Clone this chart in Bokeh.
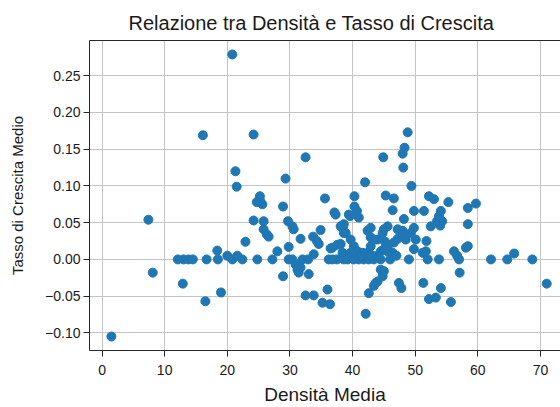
from bokeh.plotting import figure
from bokeh.models import Range1d, FixedTicker, CustomJSTickFormatter, LinearAxis, ColumnDataSource
from bokeh.embed import file_html
from bokeh.resources import INLINE

# Densità Media (x) and Tasso di Crescita Medio (y)
densita = [
    1.5, 7.4, 8.1, 12.1, 13.0, 13.8, 14.5, 12.9, 16.1, 16.5, 16.7, 18.4, 18.5, 19.0,
    20.0, 20.8, 20.8, 21.3, 21.5, 21.6, 22.4, 22.9, 24.2, 24.2, 24.8, 25.2, 25.3,
    25.6, 24.7, 25.8, 25.8, 26.3, 26.6, 27.2, 28.0, 28.9, 28.9, 29.3, 29.7, 29.8,
    29.8, 30.4, 30.4, 30.6, 30.9, 31.2, 31.4, 31.7, 31.7, 32.0, 32.5, 32.5, 32.9,
    33.0, 33.7, 33.8, 33.8, 34.3, 34.6, 34.9, 35.2, 35.6, 36.0, 36.2, 36.4, 36.5,
    37.1, 37.3, 37.5, 38.1, 38.5, 38.6, 38.6, 38.6, 39.2, 39.4, 39.6, 40.3, 40.3,
    40.7, 41.0, 41.0, 41.8, 42.0, 42.1, 42.4, 42.6, 42.6, 42.9, 42.9, 43.4, 43.4,
    43.7, 44.0, 44.0, 44.5, 44.5, 44.8, 44.9, 45.0, 45.3, 45.6, 45.0, 45.0, 45.6,
    46.4, 46.4, 46.6, 47.2, 47.4, 47.8, 48.0, 48.1, 48.3, 48.8, 48.0, 48.2, 48.2,
    49.0, 49.4, 49.8, 49.8, 49.8, 51.2, 51.3, 51.4, 51.7, 51.8, 52.0, 52.2, 52.2,
    52.5, 53.0, 53.3, 53.5, 53.8, 53.8, 54.0, 54.1, 54.1, 54.3, 55.3, 55.7, 56.2,
    56.7, 57.0, 57.1, 58.1, 58.4, 58.4, 58.4, 59.7, 62.1, 64.7, 65.8, 68.7, 71.0,
    38.1, 38.9, 39.7, 40.2, 40.8, 41.6, 42.4, 42.9, 43.4, 44.8, 47.2, 48.0, 48.5,
    49.3, 50.1, 46.6, 45.6, 44.5, 37.6, 36.8, 38.4, 39.7, 40.2, 36.8, 43.9, 41.3,
    47.0, 46.0, 45.2, 43.0,
]
tasso = [
    -0.105, 0.054, -0.018, 0.0, 0.0, 0.0, 0.0, -0.033, 0.169, -0.057, 0.0, 0.012, 0.0, -0.045,
    0.005, 0.279, 0.0, 0.120, 0.099, 0.005, 0.0, 0.024, 0.170, 0.053, 0.0, 0.086, 0.079,
    0.075, 0.078, 0.052, 0.041, 0.034, 0.031, 0.0, 0.011, 0.072, -0.023, 0.110, 0.052, 0.017,
    0.0, 0.045, 0.0, 0.041, -0.007, -0.014, -0.018, -0.011, 0.028, 0.0, 0.139, -0.049, 0.0,
    -0.020, 0.031, 0.007, -0.049, 0.025, 0.021, 0.040, -0.059, 0.083, -0.041, 0.0, -0.061, 0.015,
    0.064, 0.061, 0.0, 0.021, 0.045, 0.036, 0.048, 0.0, 0.0, 0.061, 0.059, 0.086, 0.072,
    0.066, 0.057, 0.0, 0.0, 0.105, -0.074, 0.039, -0.046, 0.0, 0.030, 0.043, -0.036, 0.0,
    -0.032, 0.027, -0.030, -0.014, 0.0, -0.023, 0.139, -0.016, 0.087, 0.045, 0.041, 0.014, 0.011,
    0.009, 0.067, 0.083, 0.028, -0.032, -0.039, 0.144, 0.125, 0.152, 0.173, 0.039, 0.031, 0.055,
    0.0, 0.100, 0.066, 0.043, 0.014, 0.009, -0.032, 0.066, 0.011, 0.025, 0.0, 0.086, -0.054,
    0.045, 0.082, -0.052, 0.052, 0.059, 0.0, 0.046, 0.066, -0.039, 0.052, 0.078, -0.058, 0.011,
    0.005, 0.0, -0.018, 0.016, 0.018, 0.048, 0.070, 0.076, 0.0, 0.0, 0.008, 0.0, -0.033,
    0.045, 0.036, 0.027, 0.018, 0.011, 0.009, 0.009, 0.018, 0.027, 0.036, 0.041, 0.034, 0.027,
    0.036, 0.027, 0.023, 0.016, 0.011, 0.020, 0.016, 0.009, 0.009, 0.0, 0.0, 0.005, 0.004,
    0.005, 0.0, 0.024, 0.006,
]

x_ticks = [0, 10, 20, 30, 40, 50, 60, 70]
y_ticks = [-0.10, -0.05, 0.0, 0.05, 0.10, 0.15, 0.20, 0.25]

title_text = "Relazione tra Densità e Tasso di Crescita"
x_label = "Densità Media"
y_label = "Tasso di Crescita Medio"

FONT = "Liberation Sans"
AX = "#262626"

p = figure(width=560, height=407, output_backend="svg", toolbar_location=None,
           x_range=Range1d(-2.0, 73.2), y_range=Range1d(-0.124, 0.298),
           min_border_left=89, min_border_right=0, min_border_top=40, min_border_bottom=55,
           title=title_text)

src = ColumnDataSource(data=dict(x=densita, y=tasso))
p.scatter("x", "y", source=src, size=9, fill_color="#1f77b4", line_color="#1f77b4")

p.outline_line_color = None
p.background_fill_color = "white"
p.border_fill_color = "white"

p.title.text_font = FONT
p.title.text_font_size = "20px"
p.title.text_font_style = "normal"
p.title.text_color = "#1a1a1a"
p.title.align = "left"
p.title.offset = 39
p.title.standoff = 13

p.xaxis.ticker = FixedTicker(ticks=x_ticks)
p.yaxis.ticker = FixedTicker(ticks=y_ticks)
p.yaxis.formatter = CustomJSTickFormatter(code="""
    const a = Math.abs(tick).toFixed(2);
    return (tick < -1e-9 ? "\u2212" : "") + a;
""")

for ax in [p.xaxis[0], p.yaxis[0]]:
    ax.axis_line_color = AX
    ax.axis_line_width = 1
    ax.major_tick_line_color = AX
    ax.major_tick_out = 6
    ax.major_tick_in = 0
    ax.minor_tick_line_color = None
    ax.major_label_text_font = FONT
    ax.major_label_text_font_size = "14px"
    ax.major_label_text_color = "#1a1a1a"
    ax.axis_label_text_font = FONT
    ax.axis_label_text_font_style = "normal"
    ax.axis_label_text_color = "#1a1a1a"

p.xaxis.major_label_standoff = 8
p.yaxis.major_label_standoff = 3
p.xaxis.axis_label = x_label
p.xaxis.axis_label_text_font_size = "19px"
p.xaxis.axis_label_standoff = 6
p.yaxis.axis_label = y_label
p.yaxis.axis_label_text_font_size = "15px"
p.yaxis.axis_label_standoff = 16

top = LinearAxis(ticker=FixedTicker(ticks=[]), axis_line_color=AX,
                 major_tick_line_color=None, minor_tick_line_color=None,
                 major_label_text_font_size="0px")
p.add_layout(top, "above")

p.xgrid.grid_line_color = "#c4c4c4"
p.ygrid.grid_line_color = "#c4c4c4"
p.xgrid.grid_line_width = 1
p.ygrid.grid_line_width = 1

open("out.html", "w").write(file_html(p, INLINE))
